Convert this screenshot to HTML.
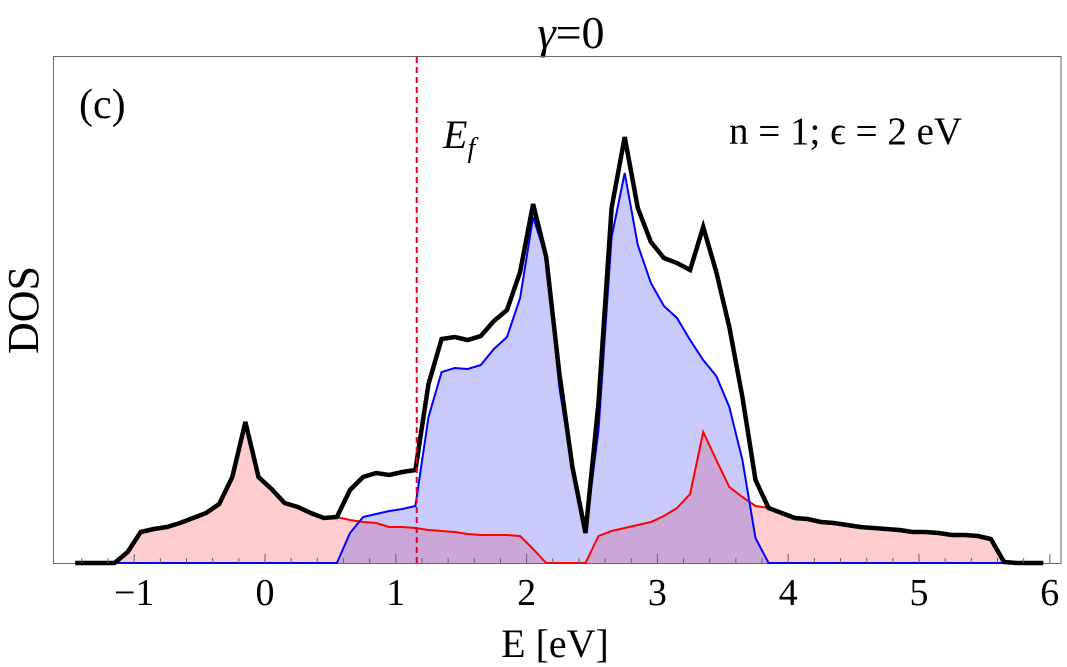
<!DOCTYPE html>
<html><head><meta charset="utf-8"><style>
body{margin:0;background:#fff}
svg{display:block}
text{font-family:"Liberation Serif",serif;fill:#000}
</style></head><body>
<svg id="chart" width="1067" height="667" viewBox="0 0 1067 667">
<text x="571" y="48" font-size="46" text-anchor="middle"><tspan font-style="italic">γ</tspan>=0</text>
<rect x="53.5" y="56.5" width="1007.5" height="507" fill="none" stroke="#666" stroke-width="1"/>
<g id="marks"></g>
<g id="axis"></g>
<text x="79" y="118" font-size="42">(c)</text>
<text x="443" y="148" font-size="40" font-style="italic">E<tspan font-size="28" dy="9">f</tspan></text>
<text x="729" y="144" font-size="39">n = 1; ϵ = 2 eV</text>
<text transform="translate(38,310) rotate(-90)" font-size="44" text-anchor="middle">DOS</text>
<text x="555" y="657" font-size="40" text-anchor="middle">E [eV]</text>
</svg>
<script>
const energies=[-1.45,-1.35,-1.25,-1.15,-1.05,-0.95,-0.85,-0.75,-0.65,-0.55,-0.45,-0.35,-0.25,-0.15,-0.05,0.05,0.15,0.25,0.35,0.45,0.55,0.65,0.75,0.85,0.95,1.05,1.15,1.25,1.35,1.45,1.55,1.65,1.75,1.85,1.95,2.05,2.15,2.25,2.35,2.45,2.55,2.65,2.75,2.85,2.95,3.05,3.15,3.25,3.35,3.45,3.55,3.65,3.75,3.85,3.95,4.05,4.15,4.25,4.35,4.45,4.55,4.65,4.75,4.85,4.95,5.05,5.15,5.25,5.35,5.45,5.55,5.65,5.75,5.85,5.95];
const redDOS=[0,0,0,0,0.11,0.31,0.34,0.36,0.40,0.45,0.50,0.59,0.86,1.41,0.86,0.74,0.60,0.56,0.50,0.45,0.46,0.43,0.41,0.40,0.36,0.36,0.35,0.33,0.32,0.31,0.29,0.28,0.28,0.28,0.27,0.14,0,0,0,0,0.27,0.32,0.35,0.38,0.41,0.47,0.55,0.69,1.31,1.03,0.76,0.66,0.57,0.55,0.50,0.45,0.44,0.41,0.40,0.38,0.36,0.35,0.34,0.33,0.31,0.31,0.30,0.28,0.28,0.27,0.24,0.01,0,0,0];
const blueDOS=[0,0,0,0,0,0,0,0,0,0,0,0,0,0,0,0,0,0,0,0,0,0.30,0.46,0.49,0.52,0.54,0.57,1.46,1.91,1.95,1.94,1.98,2.14,2.26,2.65,3.46,3.05,1.76,0.93,0.30,1.33,3.26,3.90,3.18,2.80,2.57,2.45,2.23,2.03,1.87,1.56,1.03,0.25,0,0,0,0,0,0,0,0,0,0,0,0,0,0,0,0,0,0,0,0,0,0];
const totalDOS=[0,0,0,0,0.11,0.31,0.34,0.36,0.40,0.45,0.50,0.59,0.86,1.41,0.86,0.74,0.60,0.56,0.50,0.45,0.46,0.73,0.86,0.90,0.88,0.91,0.93,1.79,2.24,2.26,2.23,2.27,2.42,2.53,2.91,3.59,3.06,1.90,0.96,0.30,1.60,3.55,4.26,3.55,3.21,3.05,3.00,2.93,3.36,2.91,2.36,1.66,0.83,0.55,0.50,0.45,0.44,0.41,0.40,0.38,0.36,0.35,0.34,0.33,0.31,0.31,0.30,0.28,0.28,0.27,0.24,0.01,0,0,0];
const xTicks=[-1,0,1,2,3,4,5,6];
const xTickLabels=["\u22121","0","1","2","3","4","5","6"];
const fermiEnergy=[1.16];

const NS="http://www.w3.org/2000/svg";
function xs(e){return 265+130.8*e;}
function ys(v){return 563-100*v;}
const marks=document.getElementById('marks');
const axis=document.getElementById('axis');
function mk(tag,attrs,parent){const el=document.createElementNS(NS,tag);for(const k in attrs)el.setAttribute(k,attrs[k]);parent.appendChild(el);return el;}
function linePts(vals){return energies.map((e,i)=>xs(e).toFixed(1)+','+ys(vals[i]).toFixed(1)).join(' ');}
function areaPts(vals){return xs(energies[0])+','+ys(0)+' '+linePts(vals)+' '+xs(energies[energies.length-1])+','+ys(0);}

const redArea=mk('polygon',{points:areaPts(redDOS),fill:'rgba(255,90,90,0.3)',stroke:'none'},marks);


const blueArea=mk('polygon',{points:areaPts(blueDOS),fill:'rgba(80,80,240,0.3)',stroke:'none'},marks);


const redLine=mk('polyline',{points:linePts(redDOS),fill:'none',stroke:'#ff0000','stroke-width':2},marks);


const blueLine=mk('polyline',{points:linePts(blueDOS),fill:'none',stroke:'#0000ff','stroke-width':2},marks);


const totLine=mk('polyline',{points:linePts(totalDOS),fill:'none',stroke:'#000','stroke-width':4.5,'stroke-linejoin':'miter'},marks);


const fx=xs(fermiEnergy[0]);
const fl=mk('line',{x1:fx,y1:57,x2:fx,y2:563,stroke:'#e0002a','stroke-width':2,'stroke-dasharray':'6,4'},marks);



for(let t=-1.4;t<=6.01;t+=0.2){
  const x=xs(t);const major=Math.abs(t-Math.round(t))<0.01;
  const tk=mk('line',{x1:x,y1:563,x2:x,y2:major?554:558,stroke:'#666','stroke-width':1},axis);
  
  
}
xTicks.forEach((t,i)=>{
  const tx=mk('text',{x:xs(t),y:605,'font-size':38,'text-anchor':'middle'},axis);
  tx.textContent=xTickLabels[i];
  
  
});
</script>
</body></html>
